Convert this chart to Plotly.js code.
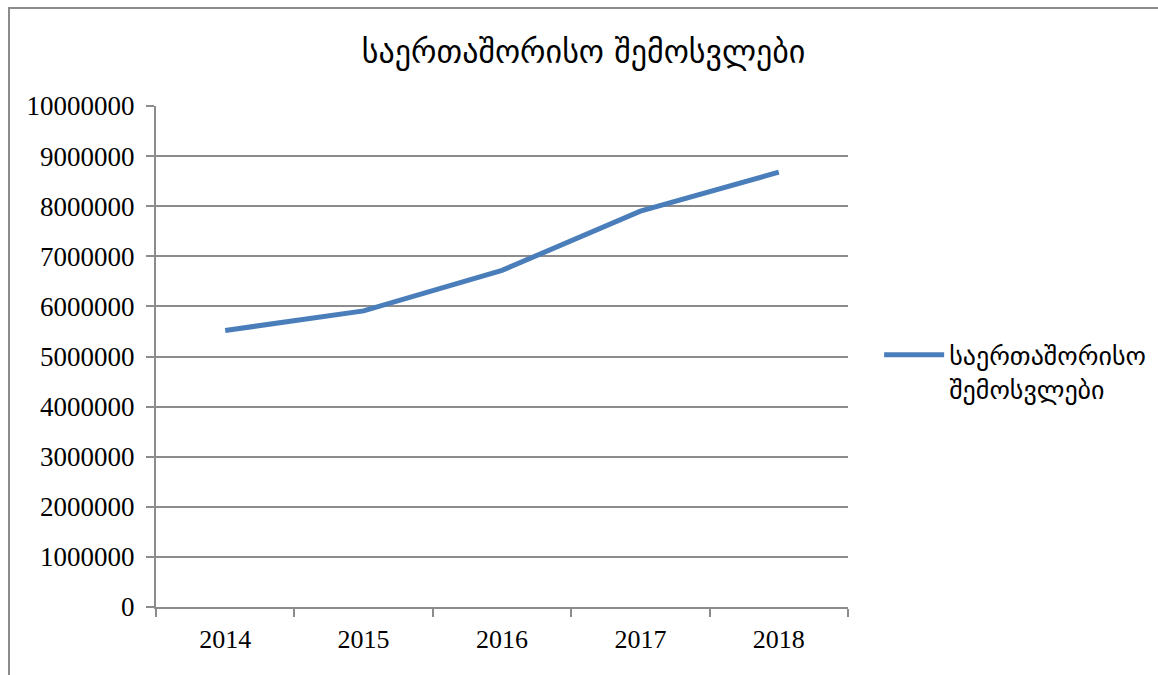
<!DOCTYPE html>
<html>
<head>
<meta charset="utf-8">
<script src="https://cdn.plot.ly/plotly-3.0.1.min.js"></script>
<style>
  html, body { margin: 0; padding: 0; background: #fff; overflow: hidden; }
  #chart { width: 1158px; height: 675px; position: absolute; left: 0; top: 0; }
  #frame { position: absolute; left: 8px; top: 7px; width: 1300px; height: 800px;
           border-left: 2px solid #8c8c8c; border-top: 2px solid #8c8c8c; pointer-events: none; }
</style>
</head>
<body>
<div id="chart"></div>
<div id="frame"></div>
<script>
const years = ['2014', '2015', '2016', '2017', '2018'];
const arrivals = [5520000, 5910000, 6720000, 7900000, 8680000];
const seriesName = 'საერთაშორისო<br>შემოსვლები';
const chartTitle = 'საერთაშორისო შემოსვლები';
const yTicks = [0, 1000000, 2000000, 3000000, 4000000, 5000000, 6000000, 7000000, 8000000, 9000000, 10000000];

const serif = '"Liberation Serif", "DejaVu Serif", serif';
const geo = '"DejaVu Sans", "DejaVu Serif", sans-serif';

const trace = {
  x: years, y: arrivals, type: 'scatter', mode: 'lines', name: seriesName,
  line: { color: '#4a7ebb', width: 5, shape: 'linear' }
};

const layout = {
  width: 1158, height: 675,
  paper_bgcolor: '#ffffff', plot_bgcolor: '#ffffff',
  margin: { l: 156, r: 310, t: 106, b: 68, autoexpand: false },
  title: { text: chartTitle, font: { family: geo, size: 32, color: '#000', weight: 500 },
           x: 0.504, xref: 'container', xanchor: 'center', y: 0.923, yref: 'container', yanchor: 'middle' },
  showlegend: true,
  legend: { x: 1.045, xanchor: 'left', y: 0.55, yanchor: 'top', valign: 'top', itemwidth: 60,
            font: { family: geo, size: 26, color: '#000' }, bgcolor: 'rgba(0,0,0,0)' },
  xaxis: {
    type: 'category', range: [-0.5, 4.5], tickson: 'boundaries',
    ticks: 'outside', ticklen: 8, tickwidth: 2, tickcolor: '#8c8c8c',
    showline: true, linecolor: '#8c8c8c', linewidth: 2, showgrid: false, zeroline: false,
    tickfont: { family: serif, size: 26, color: '#000' }, ticklabelstandoff: 8
  },
  yaxis: {
    range: [0, 10000000], tickvals: yTicks, ticktext: yTicks.map(String),
    ticks: 'outside', ticklen: 8, tickwidth: 2, tickcolor: '#8c8c8c',
    showline: true, linecolor: '#8c8c8c', linewidth: 2,
    showgrid: true, gridcolor: '#8c8c8c', gridwidth: 2, zeroline: false,
    tickfont: { family: serif, size: 27, color: '#000' }, ticklabelstandoff: 6
  }
};

Plotly.newPlot('chart', [trace], layout, { displayModeBar: false, staticPlot: true });
</script>
</body>
</html>
